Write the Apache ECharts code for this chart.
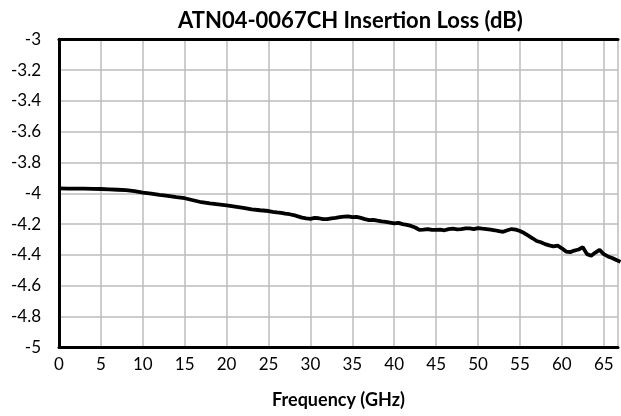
<!DOCTYPE html>
<html>
<head>
<meta charset="utf-8">
<script src="https://cdn.jsdelivr.net/npm/echarts@6/dist/echarts.min.js"></script>
<style>
html,body{margin:0;padding:0;background:#fff;}
#chart{width:621px;height:416px;}
</style>
</head>
<body>
<div id="chart"></div>
<script>
var titleText = 'ATN04-0067CH Insertion Loss (dB)';
var xAxisName = 'Frequency (GHz)';
var freqGHz = [0,1,2,3,4,5,6,7,8,9,10,11,12,13,14,15,16,17,18,19,20,21,22,23,24,25,25.5,26,26.5,27,27.5,28,28.5,29,29.5,30,30.5,31,31.5,32,32.5,33,33.5,34,34.5,35,35.5,36,36.5,37,37.5,38,38.5,39,39.5,40,40.5,41,41.5,42,42.5,43,43.5,44,44.5,45,45.5,46,46.5,47,47.5,48,48.5,49,49.5,50,50.5,51,51.5,52,52.5,53,53.5,54,54.5,55,55.5,56,56.5,57,57.5,58,58.5,59,59.5,60,60.5,61,61.5,62,62.5,63,63.5,64,64.5,65,65.5,66,66.5,67];
var lossDB = [-3.968,-3.969,-3.970,-3.970,-3.971,-3.972,-3.974,-3.977,-3.980,-3.986,-3.995,-4.002,-4.010,-4.017,-4.025,-4.032,-4.045,-4.058,-4.066,-4.072,-4.078,-4.086,-4.095,-4.104,-4.110,-4.115,-4.120,-4.124,-4.127,-4.132,-4.136,-4.141,-4.150,-4.158,-4.163,-4.166,-4.160,-4.162,-4.168,-4.168,-4.163,-4.160,-4.155,-4.152,-4.150,-4.155,-4.153,-4.160,-4.168,-4.174,-4.172,-4.178,-4.183,-4.186,-4.190,-4.195,-4.192,-4.200,-4.205,-4.212,-4.222,-4.238,-4.236,-4.232,-4.238,-4.238,-4.236,-4.240,-4.233,-4.230,-4.234,-4.232,-4.228,-4.228,-4.232,-4.226,-4.230,-4.232,-4.236,-4.240,-4.246,-4.250,-4.240,-4.232,-4.236,-4.245,-4.258,-4.275,-4.292,-4.310,-4.318,-4.330,-4.338,-4.345,-4.340,-4.357,-4.378,-4.382,-4.372,-4.365,-4.350,-4.395,-4.405,-4.385,-4.368,-4.395,-4.410,-4.420,-4.433,-4.445];

var data = freqGHz.map(function(f,i){return [f, lossDB[i]];});
var chart = echarts.init(document.getElementById('chart'), null, {renderer:'canvas'});
chart.setOption({
  animation:false,
  backgroundColor:'#fff',
  title:{
    text:titleText,
    left:173, top:5,
    textStyle:{fontFamily:'Lato', fontWeight:'bold', fontSize:22, color:'#000'}
  },
  grid:{left:59, top:39.3, right:0, bottom:68.7, show:false},
  xAxis:[{
    type:'value', min:0, max:66.7, interval:5,
    name:xAxisName, nameLocation:'middle', nameGap:44,
    nameTextStyle:{fontFamily:'Lato', fontWeight:'bold', fontSize:18, color:'#000'},
    axisLine:{show:true, onZero:false, lineStyle:{color:'#000', width:3}},
    axisTick:{show:false},
    axisLabel:{fontFamily:'Lato', fontSize:17, color:'#000', margin:9,
      formatter:function(v){return (Math.abs(v%5)<1e-9)? String(v) : '';}},
    splitLine:{show:true, lineStyle:{color:'#bdbdbd', width:1.5}}
  },{
    type:'value', position:'top', min:0, max:66.7,
    axisLine:{show:true, onZero:false, lineStyle:{color:'#000', width:3}},
    axisTick:{show:false}, axisLabel:{show:false}, splitLine:{show:false}
  }],
  yAxis:{
    type:'value', min:-5, max:-3, interval:0.2,
    axisLine:{show:true, onZero:false, lineStyle:{color:'#000', width:3}},
    axisTick:{show:false},
    axisLabel:{fontFamily:'Lato', fontSize:17, color:'#000', margin:18,
      formatter:function(v){return String(Math.round(v*10)/10);}},
    splitLine:{show:true, lineStyle:{color:'#bdbdbd', width:1.5}}
  },
  series:[{
    type:'line', data:data, showSymbol:false, smooth:false, xAxisIndex:0,
    lineStyle:{color:'#000', width:3.8}
  }]
});
</script>
</body>
</html>
